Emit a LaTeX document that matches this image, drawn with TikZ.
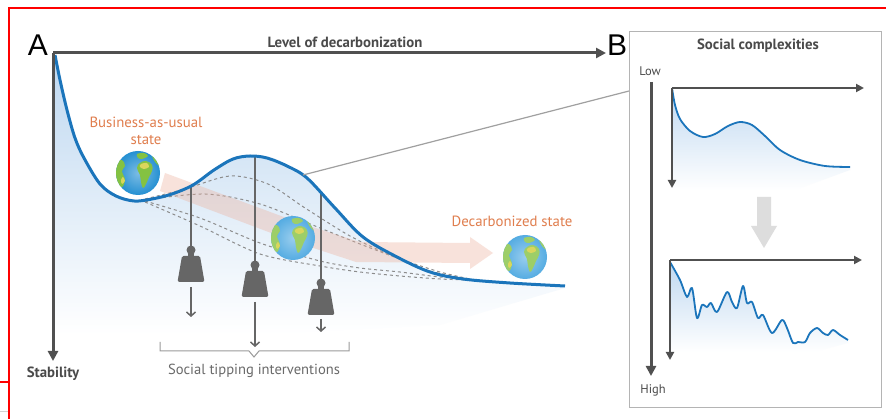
\documentclass[tikz,border=0pt]{standalone}
\usepackage{fontspec}
\setmainfont{PT Sans}
\newfontfamily\letterfont{Liberation Sans}
\usetikzlibrary{arrows.meta}

\definecolor{axisgray}{HTML}{505050}
\definecolor{labelgray}{HTML}{4A4A4A}
\definecolor{softgray}{HTML}{6A6A6A}
\definecolor{curveblue}{HTML}{1B75BB}
\definecolor{fillblue}{HTML}{BDD7F0}
\definecolor{statetext}{HTML}{E07E4E}
\definecolor{weightgray}{HTML}{666666}
\definecolor{dashgray}{HTML}{8C8C8C}
\definecolor{bandpink}{HTML}{EDAE98}
\definecolor{framered}{HTML}{FF0000}
\definecolor{panelgray}{HTML}{B4B4B4}
\definecolor{bracegray}{HTML}{9A9A9A}
\definecolor{leadgray}{HTML}{A0A0A0}
\definecolor{fadegray}{HTML}{DDDDDD}
\definecolor{sea}{HTML}{2590D2}
\definecolor{seapale}{HTML}{55ACE2}
\definecolor{land}{HTML}{84C242}
\definecolor{sand}{HTML}{DAD65C}

\tikzset{
  bigaxis/.style={draw=axisgray, line width=3pt, -{Triangle[length=10pt,width=10pt]}},
  smallaxis/.style={draw=axisgray, line width=2pt, -{Triangle[length=8pt,width=8pt]}},
  ridge/.style={draw=curveblue, line width=3pt, line join=round},
  smallridge/.style={draw=curveblue, line width=1.8pt, line join=round},
  altridge/.style={draw=dashgray, line width=1pt, dash pattern=on 3pt off 3pt},
  cord/.style={draw=weightgray, line width=1.5pt},
  pull/.style={draw=weightgray, line width=1.5pt, -{Straight Barb[length=4pt,width=9pt]}},
  statelabel/.style={text=statetext, font=\fontsize{14.8}{16.5}\selectfont, align=center},
  axislabel/.style={text=labelgray, font=\bfseries\fontsize{14.8}{16}\selectfont},
  panellabel/.style={text=labelgray, font=\fontsize{12.5}{14}\selectfont},
  letter/.style={text=black, font=\letterfont\fontsize{30}{30}\selectfont},
  pics/globe/.style n args={2}{code={
    \coordinate (-c) at (0,0);
    \shade[inner color=#1!60!white, outer color=#1] (0,0) circle (22);
    \begin{scope}
      \clip (0,0) circle (22);
      % Africa
      \fill[#2] plot[smooth cycle, tension=.7] coordinates
        {(2,-10) (8,-12) (14,-8) (14,-2) (11,4) (8,11) (5,15) (3,9) (2,2) (-1,-5)};
      \fill[sand] plot[smooth cycle] coordinates {(3,-9) (9,-10) (11,-6) (6,-4) (2,-6)};
      % Europe and Asia
      \fill[#2] plot[smooth cycle] coordinates {(-1,-19) (6,-20) (10,-17) (4,-14) (0,-15)};
      \fill[#2] plot[smooth cycle] coordinates {(14,-18) (22,-15) (22,-7) (17,-11)};
      % the Americas
      \fill[#2] plot[smooth cycle, tension=.7] coordinates
        {(-22,-10) (-16,-13) (-13,-7) (-16,-2) (-13,7) (-16,14) (-20,10) (-23,2)};
      \fill[sand] plot[smooth cycle] coordinates {(-15,4) (-13,8) (-16,11) (-17,7)};
    \end{scope}
  }},
  pics/weight/.style={code={
    \coordinate (-top) at (0,-4);
    \coordinate (-base) at (0,34);
    \fill[weightgray] (0,0) circle (4.5);
    \fill[weightgray] (-3,2) rectangle (3,7);
    \fill[weightgray, rounded corners=1.5pt] (-9,6) -- (9,6) -- (13.5,32) -- (-13.5,32) -- cycle;
  }}
}

\begin{document}
\begin{tikzpicture}[x=1pt, y=-1pt]
\useasboundingbox (0,0) rectangle (886,419);
\fill[white] (0,0) rectangle (886,419);

% outer frame
\draw[framered, line width=2pt] (9,419) -- (9,8) -- (886,8);
\draw[framered, line width=2pt] (0,382) -- (9,382);
\draw[panelgray!60, line width=1pt] (0,411) -- (8,411);

% ---------------- panel A ----------------
% soft blue body under the stability landscape
\begin{scope}
  \clip plot[smooth, tension=0.55] coordinates {(55,55) (60,80) (67,110) (75,138) (84,158) (100,184) (116,196) (134,201) (152,199) (172,194) (193,185) (214,170) (233,159) (250,156) (267,158) (287,166) (307,178) (335,208) (363,237) (397,257) (430,272) (463,279) (510,283) (565,286)}
    -- (565,288) -- (440,325) -- (55,345) -- cycle;
  \shade[top color=fillblue, middle color=fillblue!72, bottom color=white] (40,50) rectangle (580,335);
\end{scope}

% alternative, lowered landscapes
\draw[altridge] plot[smooth] coordinates {(145,199) (185,189) (230,176) (268,184) (305,208) (350,236) (390,255) (430,271) (470,279)};
\draw[altridge] plot[smooth] coordinates {(145,200) (205,194) (260,204) (320,228) (360,244) (400,259) (440,272) (470,279)};
\draw[altridge] plot[smooth] coordinates {(145,201) (200,218) (260,243) (320,261) (360,268) (400,272) (440,277) (470,279)};
\draw[altridge] plot[smooth] coordinates {(145,202) (200,226) (260,254) (320,266) (360,272) (400,276) (440,279) (470,280)};

% transition pathway
\fill[bandpink, opacity=0.35]
  (165,173) -- (300,223) -- (360,242) -- (470,243) -- (470,237) -- (493,253)
  -- (470,269) -- (470,263) -- (356,262) -- (295,242) -- (160,191) -- cycle;

% strings of the interventions
\coordinate (s1) at (191,185);
\coordinate (s2) at (255,156);
\coordinate (s3) at (321,193);
\pic (w1) at (191,250) {weight};
\pic (w2) at (255,265) {weight};
\pic (w3) at (321,283) {weight};
\draw[cord] (s1) -- (w1-top);
\draw[cord] (s2) -- (w2-top);
\draw[cord] (s3) -- (w3-top);

% globes
\pic (g1) at (138,173) {globe={sea}{land}};
\pic (g2) at (293,238) {globe={seapale}{land!80!white}};
\pic (g3) at (525,257) {globe={seapale}{land!80!white}};

% stability landscape
\draw[ridge] plot[smooth, tension=0.55] coordinates {(55,55) (60,80) (67,110) (75,138) (84,158) (100,184) (116,196) (134,201) (152,199) (172,194) (193,185) (214,170) (233,159) (250,156) (267,158) (287,166) (307,178) (335,208) (363,237) (397,257) (430,272) (463,279) (510,283) (565,286)};

% pulling arrows
\coordinate (p1) at (191,317);
\coordinate (p2) at (255,347);
\coordinate (p3) at (321,332);
\draw[pull] (w1-base) ++(0,3) coordinate (q1) (q1) -- (p1);
\draw[pull] (w2-base) ++(0,3) coordinate (q2) (q2) -- (p2);
\draw[pull] (w3-base) ++(0,2) coordinate (q3) (q3) -- (p3);

% axes
\coordinate (origin) at (53,53);
\coordinate (xend) at (606,53);
\coordinate (yend) at (53,361);
\draw[bigaxis] (origin) -- (xend);
\draw[bigaxis] (origin) -- (yend);

\node[letter] (la) at (38,45) {A};
\node[letter] (lb) at (617,45) {B};
\node[axislabel] (xlabel) at (345,42) {Level of decarbonization};
\node[axislabel] (ylabel) at (53,374) {Stability};

\node[statelabel] (bau) at (146,131) {Business-as-usual\\state};
\node[statelabel] (dec) at (512,221) {Decarbonized state};

% brace under the interventions
\draw[bracegray, line width=1pt] (160,342) -- (160,351) -- (249,351) -- (254,357) -- (259,351) -- (349,351) -- (349,342);
\node[text=softgray, font=\fontsize{14.6}{16}\selectfont] (sti) at (254,371) {Social tipping interventions};

% ---------------- panel B ----------------
\node[draw=panelgray, line width=1.2pt, minimum width=252pt, minimum height=376pt, anchor=north west, inner sep=0pt] (panelB) at (629,31) {};
\coordinate (leadA) at (303,175);
\coordinate (leadB) at (629,91);
\draw[leadgray, line width=1.2pt] (leadA) -- (leadB);

\node[axislabel] (sc) at (758,46) {Social complexities};
\node[panellabel] (low) at (650,71) {Low};
\node[panellabel] (high) at (653,390) {High};
\coordinate (bt) at (651,82);
\coordinate (bb) at (651,376);
\draw[bigaxis] (bt) -- (bb);

% smooth landscape
\begin{scope}
  \clip plot[smooth] coordinates {(672,88) (675,105) (680,119) (690,131) (703,137) (715,134) (728,126) (740,122) (752,125) (765,136) (780,150) (800,160) (825,166) (850,167)}
    -- (850,170) -- (790,192) -- (672,192) -- cycle;
  \shade[top color=fillblue, middle color=fillblue!55, bottom color=white] (668,85) rectangle (855,190);
\end{scope}
\draw[smallridge] plot[smooth] coordinates {(672,88) (675,105) (680,119) (690,131) (703,137) (715,134) (728,126) (740,122) (752,125) (765,136) (780,150) (800,160) (825,166) (850,167)};
\coordinate (o1) at (672,88);
\coordinate (o1x) at (864,88);
\coordinate (o1y) at (672,188);
\draw[smallaxis] (o1) -- (o1x);
\draw[smallaxis] (o1) -- (o1y);

% transition marker
\fill[fadegray] (757,197) -- (771,197) -- (771,226) -- (777,226) -- (764,248) -- (751,226) -- (757,226) -- cycle;

% rugged landscape
\begin{scope}
  \clip plot[smooth, tension=0.5] coordinates {(670,262) (680,280) (687,297) (692,288) (697,318) (702,305) (707,307) (711,303) (717,312) (727,292) (732,302) (737,308) (743,286) (747,303) (752,302) (758,318) (763,315) (772,333) (782,320) (787,328) (793,343) (798,342) (805,342) (810,333) (817,328) (823,333) (828,335) (833,330) (840,335) (848,340)}
    -- (848,343) -- (800,356) -- (670,356) -- cycle;
  \shade[top color=fillblue, middle color=fillblue!70, bottom color=white] (665,258) rectangle (852,352);
\end{scope}
\draw[smallridge] plot[smooth, tension=0.5] coordinates {(670,262) (680,280) (687,297) (692,288) (697,318) (702,305) (707,307) (711,303) (717,312) (727,292) (732,302) (737,308) (743,286) (747,303) (752,302) (758,318) (763,315) (772,333) (782,320) (787,328) (793,343) (798,342) (805,342) (810,333) (817,328) (823,333) (828,335) (833,330) (840,335) (848,340)};
\coordinate (o2) at (670,260);
\coordinate (o2x) at (862,260);
\coordinate (o2y) at (670,360);
\draw[smallaxis] (o2) -- (o2x);
\draw[smallaxis] (o2) -- (o2y);
\end{tikzpicture}
\end{document}
